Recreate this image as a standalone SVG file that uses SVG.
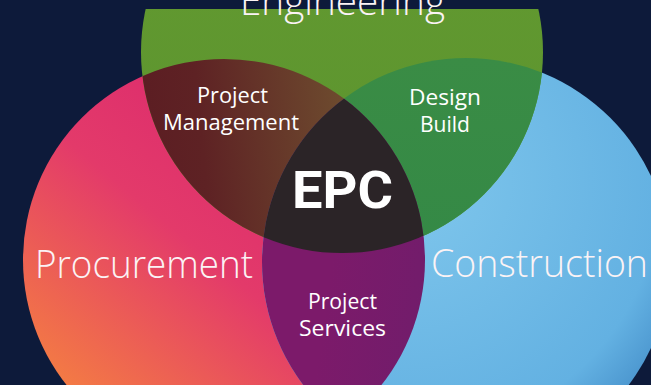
<svg xmlns="http://www.w3.org/2000/svg" width="651" height="385" viewBox="0 0 651 385">
  <style>
    .lbl { fill: #ffffff; font-family: "Open Sans", "Lato", "Liberation Sans", sans-serif; }
    .big { font-size: 39px; font-weight: 300; fill: #fbf3f5; }
    .mid { font-size: 22px; font-weight: 400; }
    .epc { font-family: Roboto, "Open Sans", "Liberation Sans", sans-serif; font-size: 52px; font-weight: 700; }
  </style>
  <defs>
    <clipPath id="cGreen"><circle cx="342" cy="52" r="201"/></clipPath>
    <clipPath id="cPink"><circle cx="224" cy="260" r="201"/></clipPath>
    <clipPath id="cBlue"><circle cx="466" cy="262" r="204"/></clipPath>
    <linearGradient id="gPink" x1="0.85" y1="0.1" x2="0.15" y2="0.95">
      <stop offset="0" stop-color="#d8236f"/>
      <stop offset="0.5" stop-color="#e33a6a"/>
      <stop offset="1" stop-color="#f6853e"/>
    </linearGradient>
    <radialGradient id="gBlue" cx="0.35" cy="0.3" r="0.9">
      <stop offset="0" stop-color="#80c7ec"/>
      <stop offset="0.7" stop-color="#63b1e2"/>
      <stop offset="1" stop-color="#2f76b8"/>
    </radialGradient>
    <linearGradient id="gGreen" x1="0" y1="0" x2="0" y2="1">
      <stop offset="0" stop-color="#649b30"/>
      <stop offset="1" stop-color="#5b932f"/>
    </linearGradient>
    <linearGradient id="gPM" x1="0" y1="0.3" x2="1" y2="0.2">
      <stop offset="0" stop-color="#571320"/>
      <stop offset="0.45" stop-color="#5e2224"/>
      <stop offset="0.8" stop-color="#6d4a2e"/>
    </linearGradient>
    <linearGradient id="gDB" x1="0" y1="0" x2="0" y2="1">
      <stop offset="0" stop-color="#3a8c45"/>
      <stop offset="1" stop-color="#2e8647"/>
    </linearGradient>
    <linearGradient id="gPS" x1="0.2" y1="0.3" x2="0.9" y2="0.4">
      <stop offset="0" stop-color="#7c1a6a"/>
      <stop offset="0.6" stop-color="#6a1e6c"/>
      <stop offset="1" stop-color="#6e3a8a"/>
    </linearGradient>
  </defs>

  <rect x="0" y="0" width="651" height="385" fill="#0d1a3a"/>

  <g id="procurement">
    <circle cx="224" cy="260" r="201" fill="url(#gPink)"/>
  </g>
  <g id="construction">
    <circle cx="466" cy="262" r="204" fill="url(#gBlue)"/>
  </g>
  <g id="engineering">
    <circle cx="342" cy="52" r="201" fill="url(#gGreen)"/>
  </g>

  <g id="project-management">
    <circle cx="224" cy="260" r="201" fill="url(#gPM)" clip-path="url(#cGreen)"/>
  </g>
  <g id="design-build">
    <circle cx="466" cy="262" r="204" fill="url(#gDB)" clip-path="url(#cGreen)"/>
  </g>
  <g id="project-services">
    <circle cx="466" cy="262" r="204" fill="url(#gPS)" clip-path="url(#cPink)"/>
  </g>
  <g id="epc">
    <g clip-path="url(#cPink)">
      <circle cx="342" cy="52" r="201" fill="#2b2427" clip-path="url(#cBlue)"/>
    </g>
  </g>

  <rect x="0" y="0" width="651" height="9" fill="#0d1a3a"/>

  <g id="labels">
    <text class="lbl big" x="240" y="15" textLength="205" lengthAdjust="spacingAndGlyphs">Engineering</text>
    <text class="lbl big" x="35" y="278" textLength="218" lengthAdjust="spacingAndGlyphs">Procurement</text>
    <text class="lbl big" x="431" y="277" textLength="217" lengthAdjust="spacingAndGlyphs">Construction</text>
    <text class="lbl mid" x="197" y="103" textLength="71" lengthAdjust="spacingAndGlyphs">Project</text>
    <text class="lbl mid" x="163" y="130" textLength="136" lengthAdjust="spacingAndGlyphs">Management</text>
    <text class="lbl mid" x="409" y="105" textLength="72" lengthAdjust="spacingAndGlyphs">Design</text>
    <text class="lbl mid" x="420" y="132" textLength="50" lengthAdjust="spacingAndGlyphs">Build</text>
    <text class="lbl epc" x="292" y="208" textLength="101" lengthAdjust="spacingAndGlyphs">EPC</text>
    <text class="lbl mid" x="308" y="309" textLength="69" lengthAdjust="spacingAndGlyphs">Project</text>
    <text class="lbl mid" x="299" y="336" textLength="87" lengthAdjust="spacingAndGlyphs">Services</text>
  </g>
</svg>
